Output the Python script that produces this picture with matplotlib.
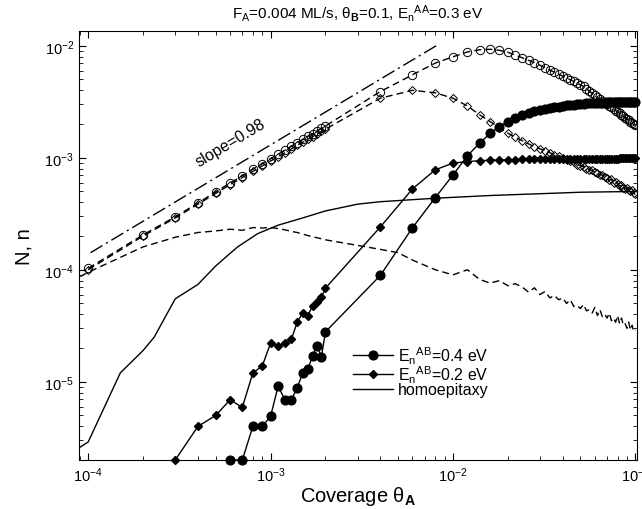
import numpy as np
import matplotlib
matplotlib.use('Agg')
import matplotlib.pyplot as plt
from matplotlib.lines import Line2D

plt.rcParams['font.family'] = ['Liberation Sans', 'DejaVu Sans']
plt.rcParams['mathtext.fontset'] = 'custom'
plt.rcParams['mathtext.rm'] = 'Liberation Sans'
plt.rcParams['mathtext.it'] = 'Liberation Sans:italic'
plt.rcParams['mathtext.bf'] = 'Liberation Sans:bold'

# coverage points of the heteroepitaxy runs
theta = [1e-4, 2e-4, 3e-4, 4e-4, 5e-4, 6e-4, 7e-4, 8e-4, 9e-4, 1e-3,
         1.1e-3, 1.2e-3, 1.3e-3, 1.4e-3, 1.5e-3, 1.6e-3, 1.7e-3, 1.8e-3, 1.9e-3, 2e-3,
         4e-3, 6e-3, 8e-3,
         0.010, 0.012, 0.014, 0.016, 0.018, 0.020, 0.022, 0.024, 0.026, 0.028,
         0.030, 0.032, 0.034, 0.036, 0.038, 0.040, 0.042, 0.044, 0.046, 0.048,
         0.050, 0.052, 0.054, 0.056, 0.058, 0.060, 0.062, 0.064, 0.066, 0.068,
         0.070, 0.072, 0.074, 0.076, 0.078, 0.080, 0.082, 0.084, 0.086, 0.088,
         0.090, 0.092, 0.094, 0.096, 0.098, 0.100]

# monomer density n, E_n^AB = 0.4 eV (open circles)
n_04 = [1.03e-4, 2.05e-4, 2.97e-4, 3.95e-4, 4.95e-4, 5.95e-4, 6.9e-4, 7.9e-4, 8.85e-4, 9.8e-4,
        1.075e-3, 1.17e-3, 1.265e-3, 1.36e-3, 1.455e-3, 1.55e-3, 1.64e-3, 1.735e-3, 1.83e-3, 1.92e-3,
        3.9e-3, 5.5e-3, 7.0e-3,
        7.96e-3, 8.80e-3, 9.20e-3, 9.30e-3, 9.10e-3, 8.75e-3, 8.25e-3, 7.80e-3, 7.40e-3, 7.05e-3,
        6.70e-3, 6.35e-3, 6.05e-3, 5.80e-3, 5.55e-3, 5.35e-3, 5.15e-3, 4.97e-3, 4.80e-3, 4.63e-3,
        4.48e-3, 4.33e-3, 4.12e-3, 3.93e-3, 3.76e-3, 3.60e-3, 3.45e-3, 3.32e-3, 3.21e-3, 3.12e-3,
        3.00e-3, 2.90e-3, 2.81e-3, 2.72e-3, 2.64e-3, 2.56e-3, 2.49e-3, 2.42e-3, 2.35e-3, 2.28e-3,
        2.22e-3, 2.16e-3, 2.10e-3, 2.04e-3, 1.99e-3, 1.94e-3]

# monomer density n, E_n^AB = 0.2 eV (open diamonds)
n_02 = [1.0e-4, 2.0e-4, 2.9e-4, 3.85e-4, 4.8e-4, 5.75e-4, 6.65e-4, 7.55e-4, 8.45e-4, 9.35e-4,
        1.02e-3, 1.11e-3, 1.2e-3, 1.29e-3, 1.375e-3, 1.46e-3, 1.545e-3, 1.63e-3, 1.715e-3, 1.8e-3,
        3.4e-3, 4.0e-3, 3.8e-3,
        3.40e-3, 2.90e-3, 2.42e-3, 2.10e-3, 1.85e-3, 1.66e-3, 1.52e-3, 1.42e-3, 1.33e-3, 1.25e-3,
        1.20e-3, 1.16e-3, 1.11e-3, 1.06e-3, 1.03e-3, 0.99e-3, 0.96e-3, 0.93e-3, 0.91e-3, 0.87e-3,
        0.85e-3, 0.83e-3, 0.80e-3, 0.78e-3, 0.77e-3, 0.74e-3, 0.73e-3, 0.70e-3, 0.70e-3, 0.67e-3,
        0.66e-3, 0.63e-3, 0.64e-3, 0.60e-3, 0.61e-3, 0.58e-3, 0.56e-3, 0.57e-3, 0.54e-3, 0.53e-3,
        0.54e-3, 0.51e-3, 0.50e-3, 0.51e-3, 0.48e-3, 0.47e-3]

# island density N, E_n^AB = 0.4 eV (filled circles), from theta = 6e-4 on
N_04 = [2e-6, 2e-6, 4.0e-6, 4.0e-6, 4.9e-6,
        9.1e-6, 6.9e-6, 6.9e-6, 8.8e-6, 1.2e-5, 1.29e-5, 1.7e-5, 2.09e-5, 1.67e-5, 2.79e-5,
        8.9e-5, 2.37e-4, 4.4e-4,
        7.0e-4, 1.04e-3, 1.35e-3, 1.65e-3, 1.90e-3, 2.10e-3, 2.25e-3, 2.40e-3, 2.50e-3, 2.60e-3,
        2.66e-3, 2.72e-3, 2.77e-3, 2.82e-3, 2.86e-3, 2.90e-3, 2.93e-3, 2.96e-3, 2.98e-3, 3.00e-3,
        3.02e-3, 3.03e-3, 3.05e-3, 3.06e-3, 3.07e-3, 3.08e-3, 3.09e-3, 3.10e-3, 3.10e-3, 3.11e-3,
        3.12e-3, 3.12e-3, 3.13e-3, 3.13e-3, 3.14e-3, 3.14e-3, 3.15e-3, 3.15e-3, 3.15e-3, 3.16e-3,
        3.16e-3, 3.16e-3, 3.17e-3, 3.17e-3, 3.17e-3, 3.17e-3]

# island density N, E_n^AB = 0.2 eV (filled diamonds), from theta = 3e-4 on
N_02 = [2e-6, 4.0e-6, 5.0e-6, 6.9e-6, 5.9e-6, 1.2e-5, 1.38e-5, 2.21e-5,
        2.09e-5, 2.21e-5, 2.4e-5, 3.39e-5, 4.11e-5, 3.89e-5, 4.79e-5, 5.13e-5, 5.68e-5, 6.85e-5,
        2.41e-4, 5.27e-4, 7.8e-4,
        8.95e-4, 9.25e-4, 9.40e-4, 9.50e-4, 9.55e-4, 9.60e-4, 9.63e-4, 9.66e-4, 9.68e-4, 9.70e-4,
        9.72e-4, 9.73e-4, 9.74e-4, 9.75e-4, 9.76e-4, 9.77e-4, 9.78e-4, 9.78e-4, 9.79e-4, 9.79e-4,
        9.80e-4, 9.80e-4, 9.81e-4, 9.81e-4, 9.81e-4, 9.82e-4, 9.82e-4, 9.82e-4, 9.83e-4, 9.83e-4,
        9.83e-4, 9.83e-4, 9.84e-4, 9.84e-4, 9.84e-4, 9.84e-4, 9.85e-4, 9.85e-4, 9.85e-4, 9.85e-4,
        9.85e-4, 9.86e-4, 9.86e-4, 9.86e-4, 9.86e-4, 9.86e-4]

# homoepitaxy, island density N (solid)
homo_N_cov = [8e-5, 1e-4, 1.5e-4, 2e-4, 2.3e-4, 3e-4, 4e-4, 5e-4, 6e-4, 6.6e-4, 8.5e-4,
              1.1e-3, 1.5e-3, 2e-3, 3e-3, 4e-3, 8e-3, 0.016, 0.020, 0.050, 0.100]
homo_N = [2.3e-6, 2.9e-6, 1.2e-5, 1.9e-5, 2.5e-5, 5.5e-5, 7.4e-5, 1.08e-4, 1.4e-4, 1.6e-4, 2.1e-4,
          2.5e-4, 2.9e-4, 3.35e-4, 3.85e-4, 4.05e-4, 4.35e-4, 4.6e-4, 4.66e-4, 4.92e-4, 5.0e-4]

# homoepitaxy, monomer density n (dashed)
homo_n_cov = [8e-5, 1e-4, 2e-4, 3e-4, 4e-4, 5e-4, 6e-4, 7e-4, 8e-4, 9e-4, 1e-3,
              1.1e-3, 1.2e-3, 1.3e-3, 1.4e-3, 1.5e-3, 1.6e-3, 1.7e-3, 1.8e-3, 1.9e-3, 2e-3,
              3e-3, 4e-3, 5e-3, 6e-3, 8e-3,
              0.010, 0.012, 0.014, 0.016, 0.018, 0.020, 0.022, 0.024, 0.026, 0.028,
              0.030, 0.032, 0.034, 0.036, 0.038, 0.040, 0.042, 0.044, 0.046, 0.048,
              0.050, 0.052, 0.054, 0.056, 0.058, 0.060, 0.062, 0.064, 0.066, 0.068,
              0.070, 0.072, 0.074, 0.076, 0.078, 0.080, 0.082, 0.084, 0.086, 0.088,
              0.090, 0.092, 0.094, 0.096, 0.098, 0.100]
homo_n = [7.8e-5, 9.5e-5, 1.6e-4, 1.95e-4, 2.15e-4, 2.22e-4, 2.3e-4, 2.25e-4, 2.38e-4, 2.36e-4, 2.38e-4,
          2.33e-4, 2.27e-4, 2.2e-4, 2.15e-4, 2.08e-4, 2.02e-4, 1.97e-4, 1.93e-4, 1.89e-4, 1.85e-4,
          1.65e-4, 1.52e-4, 1.42e-4, 1.22e-4, 1.0e-4,
          9.0e-5, 1.0e-4, 8.2e-5, 7.6e-5, 8.0e-5, 7.2e-5, 7.5e-5, 7.0e-5, 6.3e-5, 6.9e-5,
          6.0e-5, 6.4e-5, 5.6e-5, 5.9e-5, 5.4e-5, 5.6e-5, 5.0e-5, 5.4e-5, 4.7e-5, 4.8e-5,
          4.5e-5, 4.9e-5, 4.3e-5, 4.4e-5, 4.1e-5, 4.6e-5, 3.9e-5, 4.4e-5, 3.8e-5, 4.0e-5,
          3.7e-5, 4.1e-5, 3.5e-5, 3.7e-5, 3.4e-5, 3.9e-5, 3.3e-5, 3.7e-5, 3.2e-5, 3.3e-5,
          3.0e-5, 3.4e-5, 2.9e-5, 3.2e-5, 2.8e-5, 2.9e-5]

# power-law guide
slope_cov = [1.03e-4, 8.1e-3]
slope_n = [1.42e-4, 1.0e-2]

fig = plt.figure(figsize=(6.42, 5.10), dpi=100)
ax = fig.add_axes([0.123, 0.096, 0.869, 0.841])

lw = 1.0
ax.plot(slope_cov, slope_n, color='k', lw=lw, dashes=(10, 3, 1.5, 3))
ax.text(6.0e-4, 1.37e-3, 'slope=0.98', rotation=31, fontsize=11.5,
        ha='center', va='center', rotation_mode='anchor')

ax.plot(theta, n_04, color='k', lw=lw, dashes=(5, 3), marker='o', ms=6,
        mfc='none', mew=0.7)
ax.plot(theta, n_02, color='k', lw=lw, dashes=(5, 3), marker='D', ms=3.6,
        mfc='none', mew=0.7)
ax.plot(homo_n_cov, homo_n, color='k', lw=lw, dashes=(5, 3))
ax.plot(homo_N_cov, homo_N, color='k', lw=lw)
ax.plot(theta[5:], N_04, color='k', lw=lw, marker='o', ms=6.3, clip_on=False)
ax.plot(theta[2:], N_02, color='k', lw=lw, marker='D', ms=3.8, clip_on=False)

ax.set_xscale('log')
ax.set_yscale('log')
ax.set_xlim(8.9e-5, 0.102)
ax.set_ylim(2e-6, 1.35e-2)

ax.tick_params(which='both', direction='in', top=True, right=True, labelsize=10.5)
ax.tick_params(which='major', length=5, width=0.8)
ax.tick_params(which='minor', length=3, width=0.6)

ax.set_xlabel(r'Coverage θ$_\mathbf{A}$', fontsize=14.5, labelpad=0)
ax.set_ylabel('N, n', fontsize=14.5, labelpad=8)
ax.set_title(r'F$_\mathrm{A}$=0.004 ML/s, θ$_\mathbf{B}$=0.1, E$_\mathrm{n}$$^\mathrm{AA}$=0.3 eV',
             fontsize=11, pad=10)

handles = [Line2D([], [], color='k', lw=lw, marker='o', ms=6.3),
           Line2D([], [], color='k', lw=lw, marker='D', ms=3.8),
           Line2D([], [], color='k', lw=lw)]
labels = [r'E$_\mathrm{n}$$^\mathrm{AB}$=0.4 eV',
          r'E$_\mathrm{n}$$^\mathrm{AB}$=0.2 eV',
          'homoepitaxy']
ax.legend(handles, labels, loc='upper left', bbox_to_anchor=(0.48, 0.285),
          frameon=False, fontsize=11.5, handlelength=2.5, handletextpad=0.3,
          labelspacing=-0.15, borderaxespad=0)

fig.savefig('out.png', dpi=100)
